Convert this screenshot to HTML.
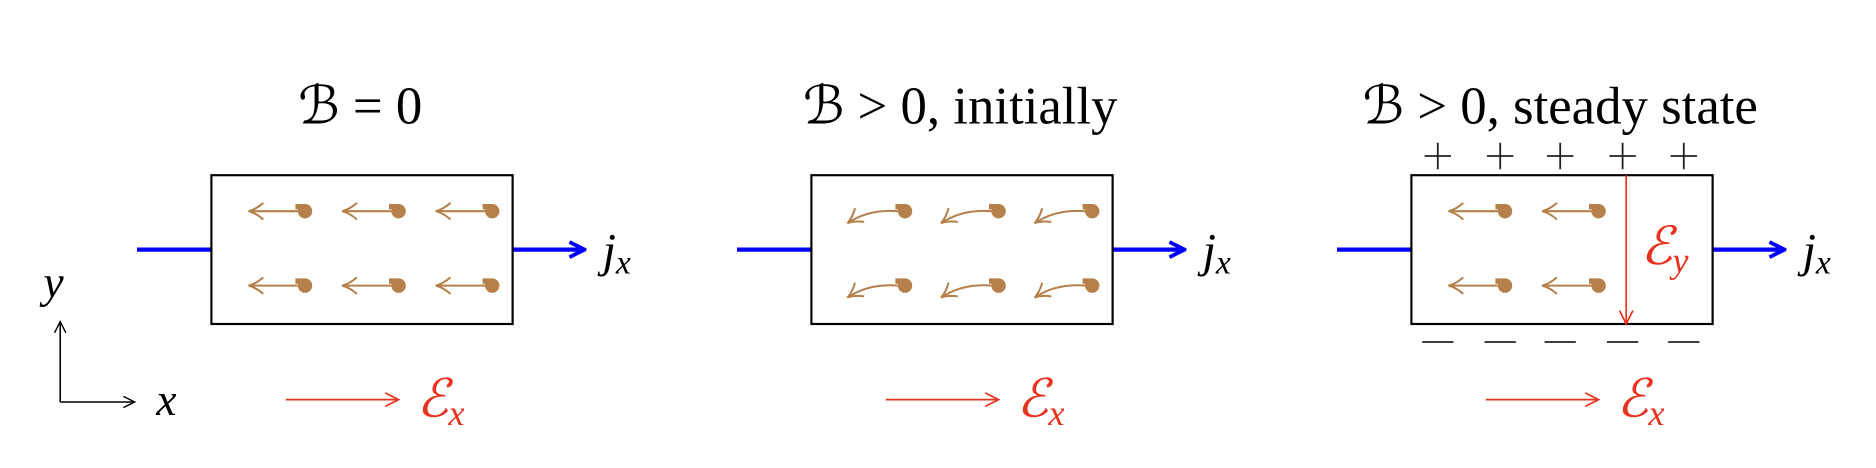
<!DOCTYPE html>
<html><head><meta charset="utf-8"><style>
html,body{margin:0;padding:0;background:#fff;}
svg{display:block;}
text{font-family:"Liberation Serif","DejaVu Serif",serif;}
</style></head><body>
<svg id="fig" width="1876" height="468" viewBox="0 0 1563 390" xmlns="http://www.w3.org/2000/svg">
<defs>
<marker id="ab" viewBox="0 0 10 10" refX="9" refY="5" markerWidth="4.5" markerHeight="4.5" orient="auto"><path d="M1,1 L9,5 L1,9" fill="none" stroke="#0000ff" stroke-width="2"/></marker>
<marker id="ar" viewBox="0 0 10 10" refX="9" refY="5" markerWidth="10" markerHeight="10" orient="auto"><path d="M1,1 L9,5 L1,9" fill="none" stroke="#e8321e" stroke-width="1"/></marker>
<marker id="ak" viewBox="0 0 10 10" refX="9" refY="5" markerWidth="9" markerHeight="9" orient="auto"><path d="M1,1 L9,5 L1,9" fill="none" stroke="#000" stroke-width="1"/></marker>
<marker id="ao" viewBox="0 0 10 10" refX="9" refY="5" markerWidth="9" markerHeight="9" orient="auto"><path d="M1,0.5 Q5,4 9,5 Q5,6 1,9.5" fill="none" stroke="#b5804a" stroke-width="1.1"/></marker>
</defs>
<g>
<path d="M50,335 L50,268" stroke="#000" stroke-width="1.3" marker-end="url(#ak)"/>
<path d="M50,335 L112,335" stroke="#000" stroke-width="1.3" marker-end="url(#ak)"/>
<text x="36" y="248" font-size="38" font-style="italic">y</text>
<text x="130" y="346" font-size="38" font-style="italic">x</text>
</g>
</svg>
<script>
const svg=document.getElementById('fig');
const NS='http://www.w3.org/2000/svg';
const titles=['ℬ = 0','ℬ > 0, initially','ℬ > 0, steady state'];
const titleX=[300,800,1300];
function mk(tag,attrs,parent){const e=document.createElementNS(NS,tag);for(const k in attrs)e.setAttribute(k,attrs[k]);parent.appendChild(e);return e;}
for(let p=0;p<3;p++){
  const o=p*500;
  const g=mk('g',{},svg);
  
  
  const t=mk('text',{x:titleX[p],y:103,'font-size':44,'text-anchor':'middle'},g);
  t.textContent=titles[p];
  
  
  const wl=mk('line',{x1:114+o,y1:208,x2:176+o,y2:208,stroke:'#0000ff','stroke-width':3.5},g);
  
  
  const wr=mk('line',{x1:427+o,y1:208,x2:487+o,y2:208,stroke:'#0000ff','stroke-width':3.5,'marker-end':'url(#ab)'},g);
  
  
  const box=mk('rect',{x:176+o,y:146,width:251,height:124,fill:'none',stroke:'#000','stroke-width':1.8},g);
  
  
  const jx=mk('text',{x:502+o,y:222,'font-size':40,'font-style':'italic'},g);
  jx.innerHTML='j<tspan font-size="28" dy="6">x</tspan>';
  
  
  const ex=mk('line',{x1:238+o,y1:333,x2:332+o,y2:333,stroke:'#e8321e','stroke-width':1.4,'marker-end':'url(#ar)'},g);
  
  
  const exl=mk('text',{x:347+o,y:347,'font-size':44,'font-style':'italic',fill:'#e8321e'},g);
  exl.innerHTML='ℰ<tspan font-size="30" dy="7">x</tspan>';
  
  
  const cols=p===2?[254,332]:[254,332,410];
  for(const cy of [176,238]) for(const cx of cols){
    const eg=mk('g',{},g);
    
    
    const X=cx+o;
    const d=p===1?`M${X-6},${cy} Q${X-30},${cy-2} ${X-48},${cy+10}`:`M${X-6},${cy} L${X-47},${cy}`;
    mk('path',{d:d,fill:'none',stroke:'#b5804a','stroke-width':1.7,'marker-end':'url(#ao)'},eg);
    mk('rect',{x:X-8,y:cy-6,width:8,height:4.5,fill:'#b5804a'},eg);
    mk('circle',{cx:X,cy:cy,r:6,fill:'#b5804a'},eg);
  }
  if(p===2){
    const ey=mk('line',{x1:1355,y1:146,x2:1355,y2:270,stroke:'#e8321e','stroke-width':1.4,'marker-end':'url(#ar)'},g);
    
    
    const eyl=mk('text',{x:1367,y:220,'font-size':44,'font-style':'italic',fill:'#e8321e'},g);
    eyl.innerHTML='ℰ<tspan font-size="30" dy="7">y</tspan>';
    
    
    for(const px of [1198,1250,1300,1352,1403]){
      const pl=mk('path',{d:`M${px-11},130 L${px+11},130 M${px},119 L${px},141`,stroke:'#222','stroke-width':1.5},g);
      
      
      const mi=mk('line',{x1:px-13,y1:285,x2:px+13,y2:285,stroke:'#222','stroke-width':1.5},g);
      
      
    }
  }
}
</script>
</body></html>
